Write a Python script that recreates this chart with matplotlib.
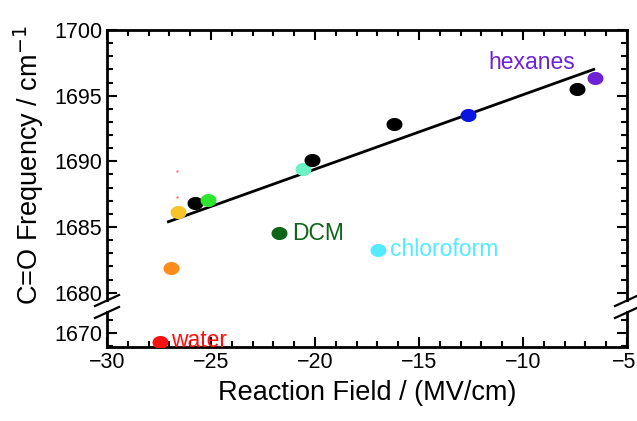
import numpy as np
import matplotlib
matplotlib.use('Agg')
import matplotlib.pyplot as plt
from matplotlib.path import Path
from matplotlib.lines import Line2D
from matplotlib.transforms import ScaledTranslation

plt.rcParams['font.family'] = ['Liberation Sans', 'DejaVu Sans']

# points
field = [-27.45, -26.92, -26.57, -25.77, -25.16, -21.72, -20.56, -20.13,
         -16.97, -16.20, -12.63, -7.42, -6.54]
freq = [1669.34, 1681.9, 1686.14, 1686.82, 1687.02, 1684.53, 1689.44, 1690.13,
        1683.26, 1692.85, 1693.49, 1695.47, 1696.37]
colors = ['#ff1010', '#ff8c1a', '#f7c52a', '#000000', '#2ee62e', '#0e6418',
          '#6cf2c4', '#000000', '#55eaff', '#000000', '#0a14e0', '#000000', '#6e22d6']

# tiny stray marks near the yellow point
stray_x = [-26.62, -26.62]
stray_y = [1689.3, 1687.3]

# fit line ends
fit_x = [-27.05, -6.6]
fit_y = [1685.4, 1697.0]

label_text = ['water', 'DCM', 'chloroform', 'hexanes']
label_x = [-26.9, -21.1, -16.4, -11.65]
label_y = [1669.4, 1684.5, 1683.3, 1697.5]
label_color = ['#ff1010', '#0e6418', '#55eaff', '#6e22d6']

W, H = 637, 421
fig = plt.figure(figsize=(W / 100, H / 100), dpi=100)

left, right = 107, 627
ax_top = fig.add_axes([left / W, 1 - 300 / H, (right - left) / W, 270 / H])
ax_bot = fig.add_axes([left / W, 1 - 347 / H, (right - left) / W, 35 / H])

# slightly wide ellipse marker
t = np.linspace(0, 2 * np.pi, 60)
ell = Path(np.column_stack([np.cos(t), 0.8 * np.sin(t)]), closed=True)

for ax in (ax_top, ax_bot):
    ax.plot(fit_x, fit_y, color='black', lw=2, zorder=2)
    for x, y, c in zip(field, freq, colors):
        ax.plot(x, y, marker=ell, ms=10.5, color=c, mec=c, ls='none', zorder=3)
    ax.plot(stray_x, stray_y, 's', ms=1.5, color='#ff6060', mec='none')
    ax.set_xlim(-30, -5)
    for s in ax.spines.values():
        s.set_linewidth(2)
    ax.tick_params(which='both', direction='in', width=1.5, labelsize=15.5,
                   top=True, right=True)
    ax.tick_params(which='major', length=7)
    ax.tick_params(which='minor', length=4)
    ax.set_xticks(np.arange(-30, -4, 5))
    ax.set_xticks(np.arange(-30, -4, 1), minor=True)

ax_top.set_ylim(1679.44, 1700)
ax_top.set_yticks(np.arange(1680, 1701, 5))
ax_top.set_yticks(np.arange(1680, 1701, 1), minor=True)
ax_top.spines['bottom'].set_visible(False)
ax_top.tick_params(which='both', bottom=False, labelbottom=False)

ax_bot.set_ylim(1668.93, 1671.6)
ax_bot.set_yticks([1670])
ax_bot.set_yticks([1669, 1671], minor=True)
ax_bot.spines['top'].set_visible(False)
ax_bot.tick_params(which='both', top=False)
ax_bot.set_xticklabels(['\u221230', '\u221225', '\u221220', '\u221215', '\u221210', '\u22125'])
last = ax_bot.get_xticklabels()[-1]
last.set_transform(last.get_transform() + ScaledTranslation(-3 / 100, 0, fig.dpi_scale_trans))

for txt, x, y, c in zip(label_text, label_x, label_y, label_color):
    ax = ax_bot if y < 1675 else ax_top
    ax.text(x, y, txt, color=c, fontsize=16.5, ha='left', va='center')

ax_bot.set_xlabel('Reaction Field / (MV/cm)', fontsize=19.5, labelpad=5)
ax_top.set_ylabel('C=O Frequency / cm$^{-1}$', fontsize=19.5, labelpad=6)

# break marks
def slash(x0, y0, x1, y1):
    fig.add_artist(Line2D([x0 / W, x1 / W], [1 - y0 / H, 1 - y1 / H],
                          transform=fig.transFigure, color='black', lw=1.6))

for xc in (left, right):
    slash(xc - 12, 306, xc + 12, 295)
    slash(xc - 12, 318, xc + 12, 307)

fig.savefig('out.png', dpi=100)
